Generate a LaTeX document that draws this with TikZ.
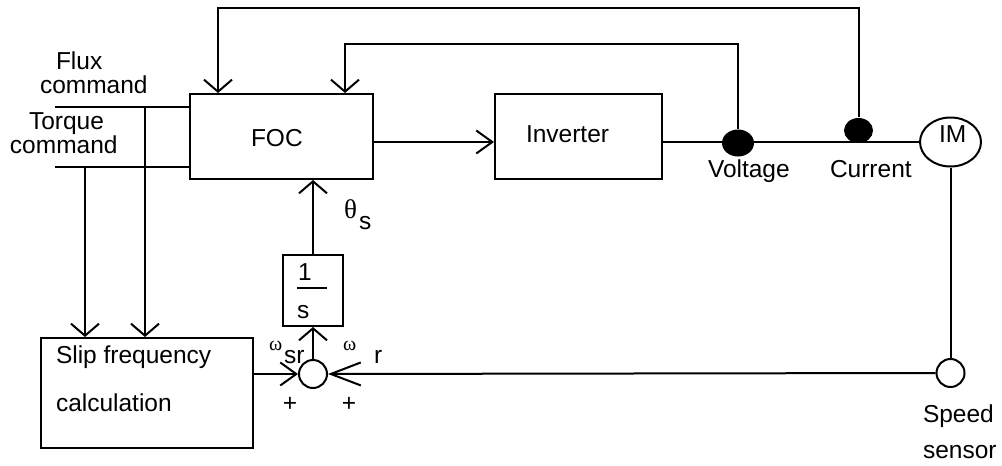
\documentclass[tikz,border=0pt]{standalone}
\usepackage{fontspec}
\setmainfont{Liberation Sans}
\newfontfamily\grk{Liberation Serif}
\usetikzlibrary{arrows.meta,shapes.geometric}
\begin{document}
\begin{tikzpicture}[x=0.5pt,y=-0.5pt, line width=1pt, line join=miter,
  lbl/.style={inner sep=0pt, anchor=base west, font=\fontsize{12.25}{14}\selectfont},
  blk/.style={draw, rectangle, inner sep=0pt},
  rnd/.style={draw, ellipse, inner sep=0pt},
  dot/.style={fill, ellipse, inner sep=0pt},
  arr/.style={-{Straight Barb[length=6pt,width=14pt]}},
  arrS/.style={-{Straight Barb[length=8pt,width=11.5pt]}},
  arrL/.style={-{Straight Barb[length=15pt,width=11.5pt]}},
  grl/.style={inner sep=0pt, anchor=base west, font=\grk\fontsize{13.5}{14}\selectfont},
  grs/.style={inner sep=0pt, anchor=base west, font=\grk\fontsize{10}{12}\selectfont}
]
\path[use as bounding box] (0,0) rectangle (1002,466);

% blocks
\node[blk, minimum width=91.5pt, minimum height=42.5pt] (foc) at (281.5,136.5) {};
\node[blk, minimum width=83.5pt, minimum height=42.5pt] (inv) at (578.5,136.5) {};
\node[blk, minimum width=106pt, minimum height=55pt] (slip) at (147,393) {};
\node[blk, minimum width=30pt, minimum height=35.5pt] (integ) at (313,290.5) {};
\node[rnd, minimum width=30.5pt, minimum height=24.5pt] (im) at (950.5,142) {};
\node[draw, circle, inner sep=0pt, minimum size=14pt] (sum) at (313,374) {};
\node[draw, circle, inner sep=0pt, minimum size=14pt] (sens) at (950.5,373) {};
\node[dot, minimum width=16pt, minimum height=13.5pt] (vd) at (738,143) {};
\node[dot, minimum width=14.5pt, minimum height=12.5pt] (cd) at (858.5,130.5) {};

% texts
\node[lbl] (tfoc) at (250,146) {FOC};
\node[lbl] (tinv) at (525,142) {Inverter};
\node[lbl] (tim) at (938,142) {IM};
\node[lbl] (tvol) at (707,177) {Voltage};
\node[lbl] (tcur) at (829,177) {Current};
\node[lbl] (tsl1) at (55,363) {Slip frequency};
\node[lbl] (tsl2) at (55,411) {calculation};
\node[lbl] (tsp1) at (922,422) {Speed};
\node[lbl] (tsp2) at (922,458) {sensor};
\node[lbl] (tfl1) at (55,69) {Flux};
\node[lbl] (tfl2) at (39,93) {command};
\node[lbl] (ttq1) at (28,129) {Torque};
\node[lbl] (ttq2) at (9,153) {command};
\node[lbl] (tone) at (297,280) {1};
\node[lbl] (ts) at (296,318) {s};
\node[grl] (tth) at (343,218) {θ};
\node[lbl] (tths) at (358,229) {s};
\node[grs] (tw1) at (268,350) {ω};
\node[lbl] (tw1s) at (283,363) {sr};
\node[grs] (tw2) at (342,350) {ω};
\node[lbl] (tw2s) at (373,363) {r};
\node[lbl, anchor=base] (tp1) at (290,411) {+};
\node[lbl, anchor=base] (tp2) at (349,411) {+};

% fraction bar
\coordinate (fb1) at (297,288);
\coordinate (fb2) at (327,288);
\draw (fb1) -- (fb2);

% command inputs
\coordinate (fl) at (55,107);
\coordinate (tq) at (55,167);
\coordinate (fv) at (145,107);
\coordinate (tv) at (85,167);
\draw (fl) -- (fl -| foc.west);
\draw (tq) -- (tq -| foc.west);
\draw[arr] (fv) -- (fv |- slip.north);
\draw[arr] (tv) -- (tv |- slip.north);

% main path
\coordinate (bus) at (0,142);
\draw[arrS] (foc.east |- bus) -- (inv.west |- bus);
\draw (inv.east |- bus) -- (im.west);

% feedbacks
\coordinate (t1) at (218,8);
\coordinate (t2) at (345,44);
\draw[arr] (cd.north) |- (t1) -- (t1 |- foc.north);
\draw[arr] (vd.north) |- (t2) -- (t2 |- foc.north);

% speed loop
\draw (im.south) -- (sens.north);
\draw[arrL] (sens.west) -- (sum.east);
\draw[arrS] (slip.east |- sum) -- (sum.west);
\draw[arr] (sum.north) -- (integ.south);
\draw[arr] (integ.north) -- (integ.north |- foc.south);
\end{tikzpicture}
\end{document}
